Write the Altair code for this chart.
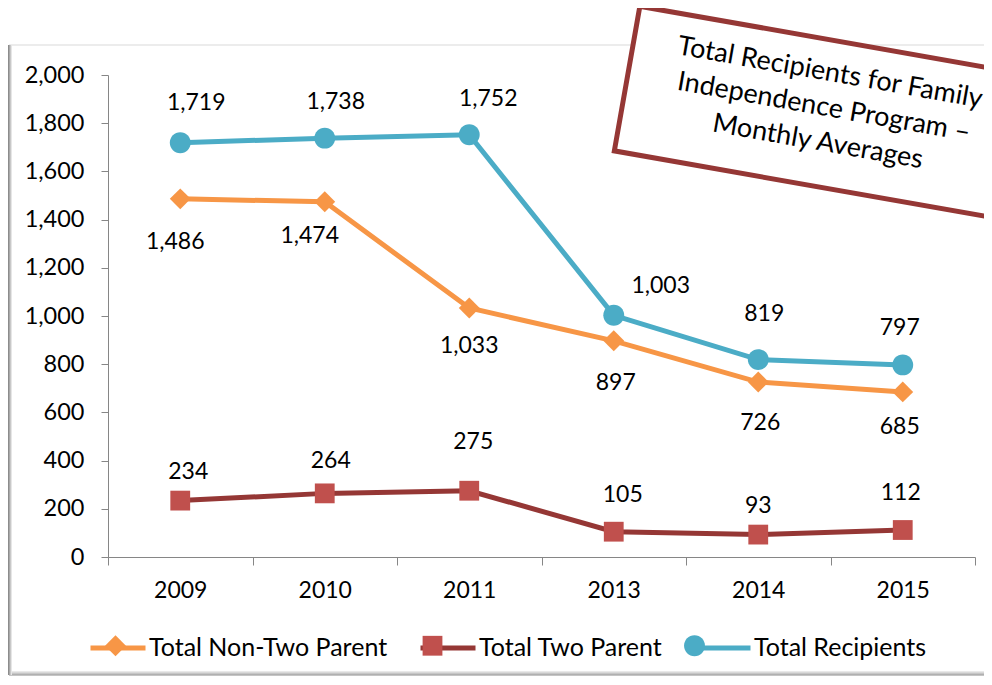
import altair as alt
import pandas as pd

# ---------------- data ----------------
years = ["2009", "2010", "2011", "2013", "2014", "2015"]
non_two_parent = [1486, 1474, 1033, 897, 726, 685]
two_parent = [234, 264, 275, 105, 93, 112]
recipients = [1719, 1738, 1752, 1003, 819, 797]
series_names = ["Total Non-Two Parent", "Total Two Parent", "Total Recipients"]
y_ticks = [0, 200, 400, 600, 800, 1000, 1200, 1400, 1600, 1800, 2000]
title_lines = ["Total Recipients for Family", "Independence Program \u2013", "Monthly Averages"]

rows = []
for name, vals in zip(series_names, [non_two_parent, two_parent, recipients]):
    for yr, v in zip(years, vals):
        rows.append({"year": yr, "series": name, "value": v})
df = pd.DataFrame(rows)

# ---------------- styles ----------------
FONT = "Lato"
line_colors = ["#F79646", "#953735", "#4BACC6"]
marker_colors = ["#F79646", "#C0504D", "#4BACC6"]
diamond = "M0,-0.38L0.38,0L0,0.38L-0.38,0Z"
square = "M-0.36,-0.36L0.36,-0.36L0.36,0.36L-0.36,0.36Z"
circle = "M-0.38,0A0.38,0.38 0 1,1 0.38,0A0.38,0.38 0 1,1 -0.38,0Z"
SYM = 3025  # symbol unit: 27.5 px

# per-label nudges (dx, dy) in pixels, as placed in the original
label_nudges = {
    "Total Recipients": [(16, -40), (11, -36), (19, -36), (47, -29), (6, -46), (-3, -37)],
    "Total Non-Two Parent": [(-5, 43), (-15, 34), (0, 38), (2, 42), (2, 41), (-3, 35)],
    "Total Two Parent": [(8, -29), (6, -32), (4, -49), (9, -37), (0, -29), (-2, -37)],
}

W, H = 867, 482
PAD = {"left": 100, "top": 67, "right": 9, "bottom": 120}

x_enc = alt.X("year:N", sort=years,
              scale=alt.Scale(paddingInner=0, paddingOuter=0),
              axis=alt.Axis(title=None, labelAngle=0, tickBand="extent", labelPadding=14,
                            tickSize=8, domainColor="#868686", tickColor="#868686",
                            labelFont=FONT, labelFontSize=23, labelColor="black"))
y_enc = alt.Y("value:Q", scale=alt.Scale(domain=[0, 2000], nice=False),
              axis=alt.Axis(title=None, values=y_ticks, format=",.0f", grid=False,
                            tickSize=7, labelPadding=17, domainColor="#868686",
                            tickColor="#868686", labelFont=FONT, labelFontSize=23.5,
                            labelColor="black"))

base = alt.Chart(df)
one = alt.Chart(pd.DataFrame({"k": [0]}))

# frame with a soft shadow
frame = one.mark_rect(fill="transparent", stroke="#D9D9D9", strokeWidth=1).encode(
    x=alt.value(-99), x2=alt.value(900), y=alt.value(-30), y2=alt.value(597))
shadow_layers = []
for i, c in enumerate(["#E6E6E6", "#C8C8C8", "#A8A8A8", "#8C8C8C"]):
    shadow_layers.append(one.mark_rule(color=c, strokeWidth=1).encode(
        x=alt.value(-99), x2=alt.value(900), y=alt.value(597 + i)))
for i, c in enumerate(["#8C8C8C", "#A8A8A8", "#C8C8C8", "#E6E6E6"]):
    shadow_layers.append(one.mark_rule(color=c, strokeWidth=1).encode(
        x=alt.value(-99.5 + i), y=alt.value(-30), y2=alt.value(600)))

legend_common = dict(orient="none", legendX=-20, legendY=543, direction="horizontal",
                     title=None, symbolSize=SYM, labelFont=FONT, labelFontSize=25,
                     labelColor="black", labelOffset=1, columnPadding=22, labelLimit=600)

lines = base.mark_line(strokeWidth=5).encode(
    x=x_enc, y=y_enc,
    color=alt.Color("series:N", sort=series_names, scale=alt.Scale(range=line_colors),
                    legend=alt.Legend(symbolType="stroke", symbolStrokeWidth=5, zindex=0,
                                      **legend_common)),
)

marker_legend = alt.Legend(symbolStrokeWidth=0, zindex=2, labelOpacity=0, **legend_common)
points = base.mark_point(filled=True, size=SYM, opacity=1, strokeWidth=0).encode(
    x=x_enc, y=y_enc,
    fill=alt.Fill("series:N", scale=alt.Scale(domain=series_names, range=marker_colors),
                  legend=marker_legend),
    shape=alt.Shape("series:N", scale=alt.Scale(domain=series_names,
                                                range=[diamond, square, circle]),
                    legend=marker_legend),
)

label_layers = []
for name in series_names:
    for yr, (dx, dy) in zip(years, label_nudges[name]):
        label_layers.append(
            base.transform_filter(
                (alt.datum.series == name) & (alt.datum.year == yr)
            ).mark_text(font=FONT, fontSize=23, color="black", dx=dx, dy=dy,
                        baseline="middle", align="center").encode(
                x=x_enc, y=y_enc, text=alt.Text("value:Q", format=","))
        )

box_path = "M-1,-0.36L1,-0.36L1,0.36L-1,0.36Z"
title_box = one.mark_point(shape=box_path, size=408 * 408, angle=10, fill="white",
                           stroke="#953735", strokeWidth=5, opacity=1, fillOpacity=1,
                           filled=True).encode(x=alt.value(720), y=alt.value(39))
title_text = one.mark_text(text=title_lines, font=FONT, fontSize=27, angle=10,
                           align="center", baseline="middle", lineHeight=35,
                           color="black").encode(x=alt.value(722), y=alt.value(-2))

chart = alt.layer(frame, *shadow_layers, lines, points, *label_layers, title_box, title_text).properties(
    width=W, height=H, padding=PAD,
    autosize=alt.AutoSizeParams(type="none"),
    background="white",
).configure_view(stroke=None)

chart.save("out.html", embed_options={"renderer": "svg", "actions": False})
